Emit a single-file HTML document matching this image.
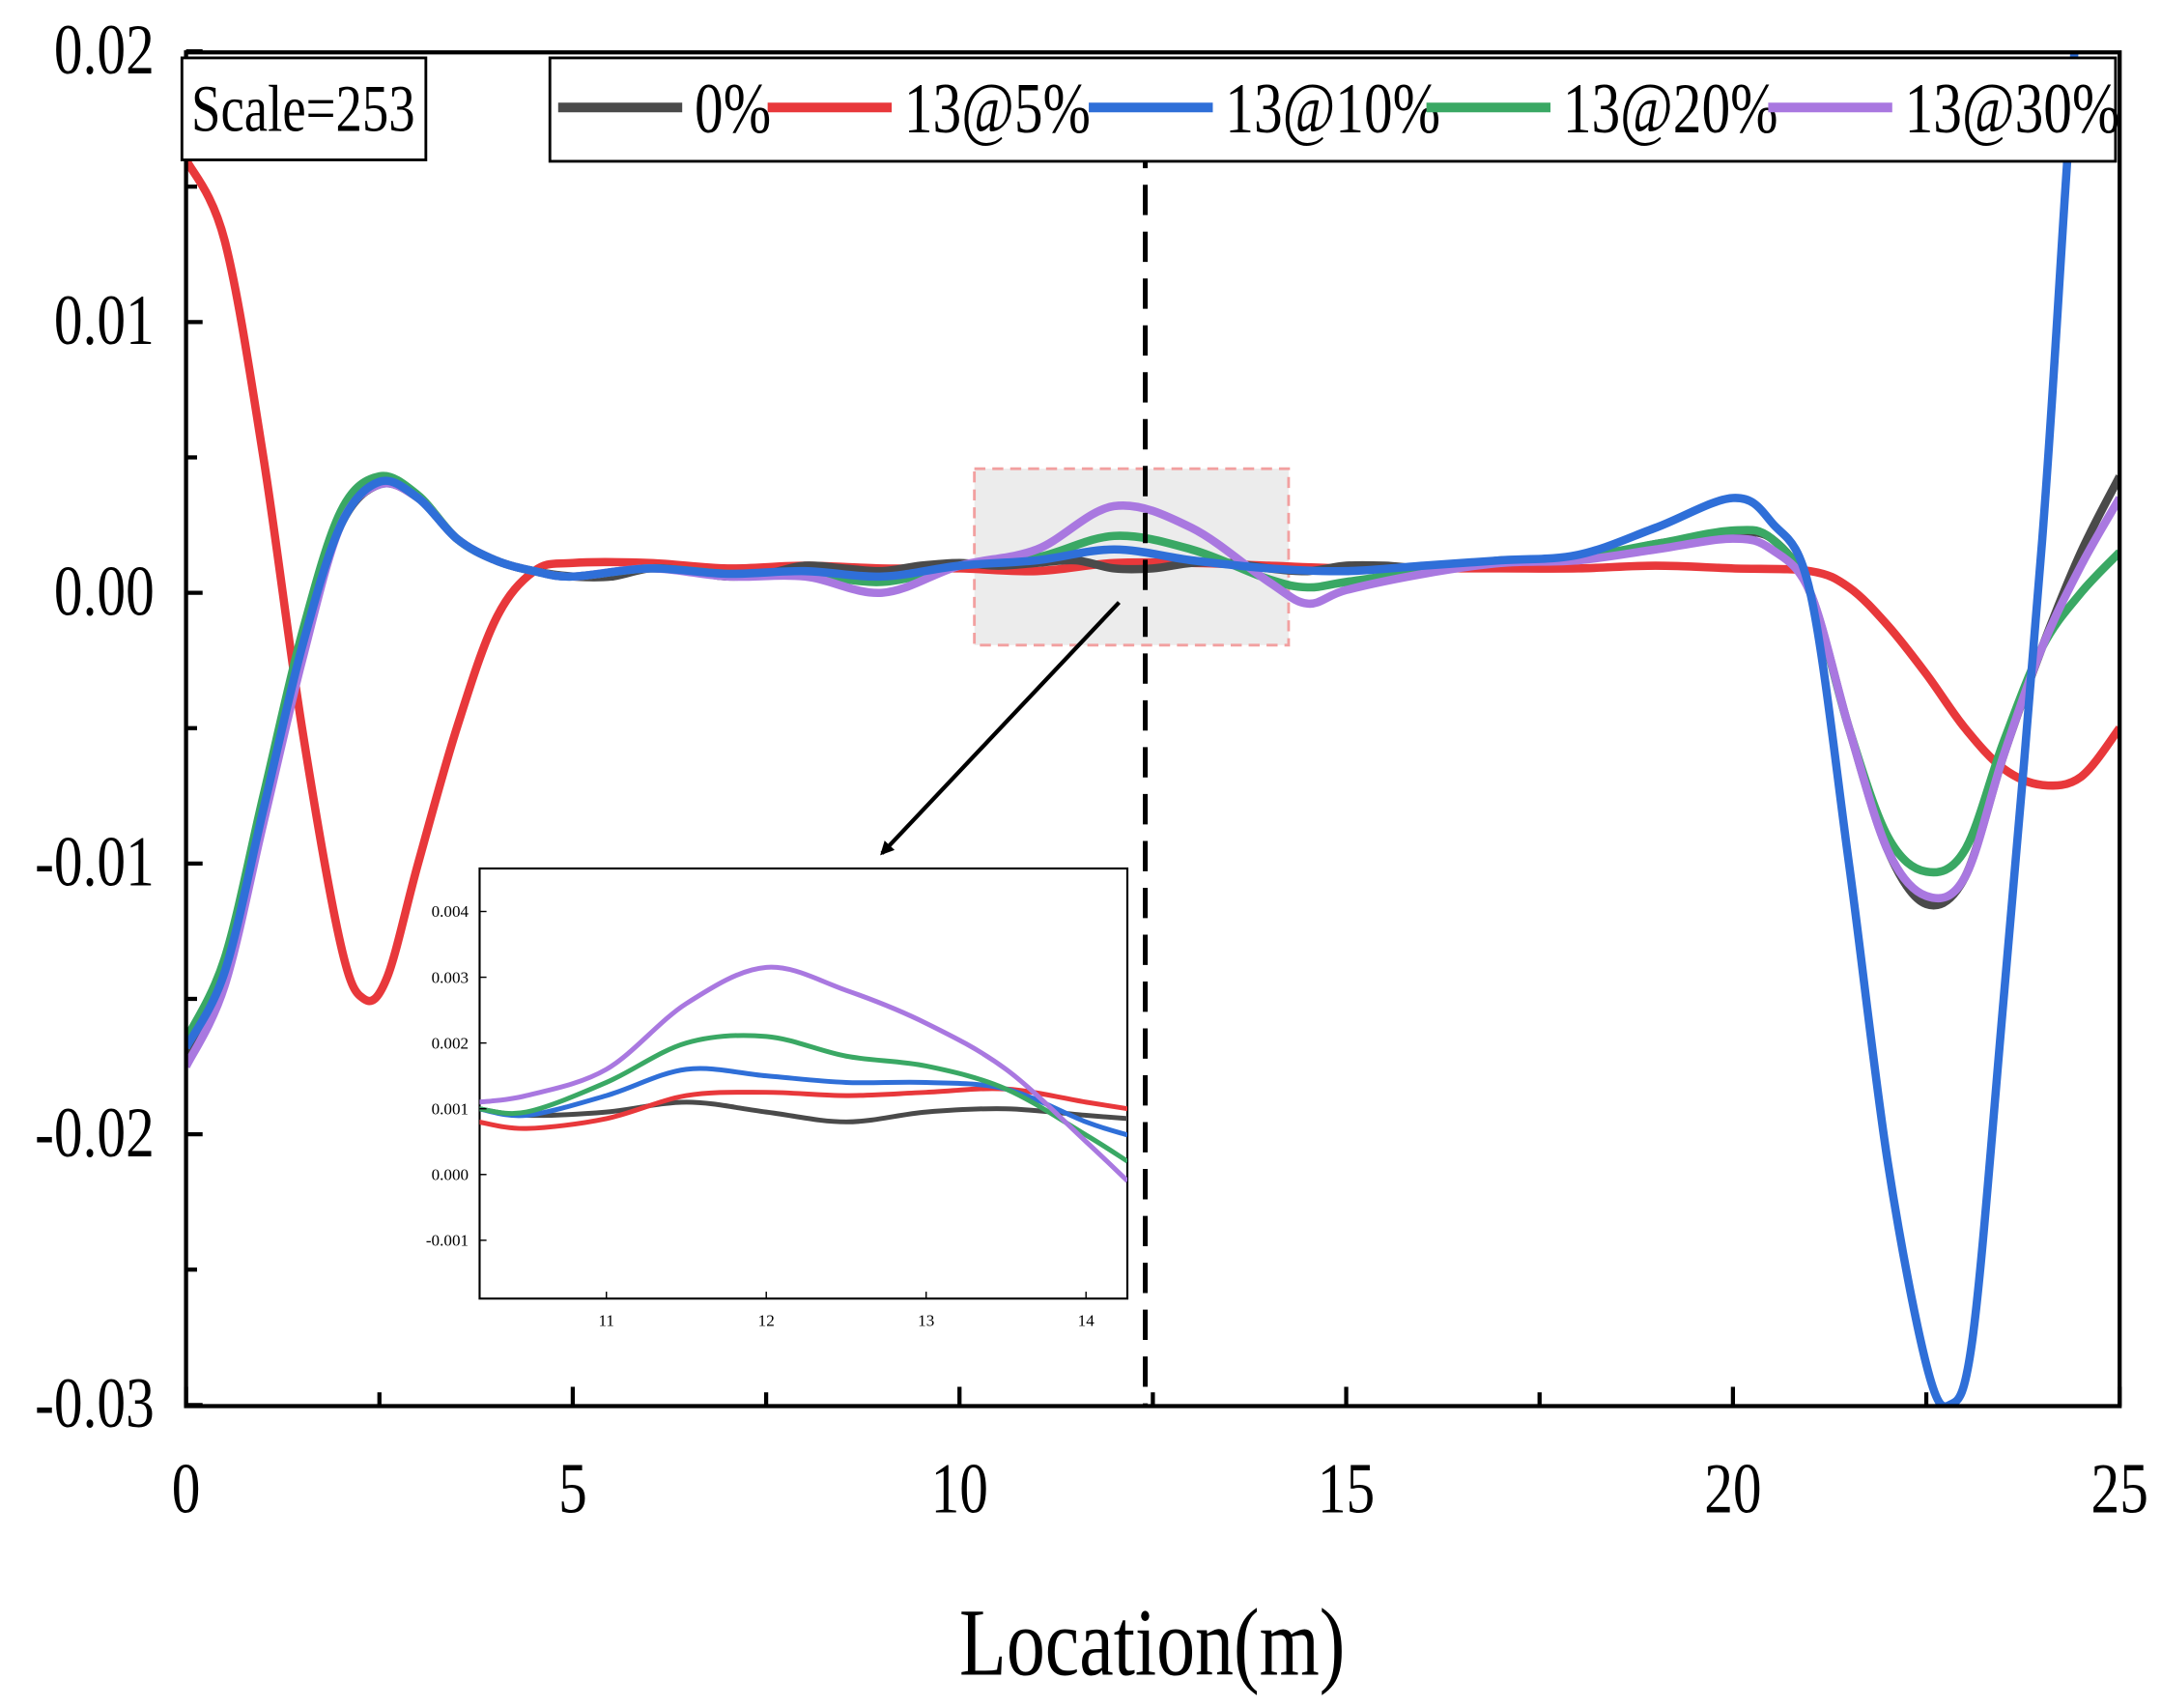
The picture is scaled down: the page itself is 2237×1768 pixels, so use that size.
<!DOCTYPE html>
<html><head><meta charset="utf-8"><style>
html,body{margin:0;padding:0;background:#fff;}
svg{display:block;font-family:"Liberation Serif",serif;}
</style></head><body>
<svg id="chart" width="2237" height="1768" viewBox="0 0 1568 1239" preserveAspectRatio="none" xmlns="http://www.w3.org/2000/svg">
<defs>
<clipPath id="mainClip"><rect x="135" y="38" width="1403" height="982"/></clipPath>
<clipPath id="insetClip"><rect x="348" y="630" width="470" height="312"/></clipPath>
<marker id="ah" markerWidth="10" markerHeight="10" refX="8" refY="5" orient="auto" markerUnits="userSpaceOnUse"><path d="M0,0 L10,5 L0,10 z" fill="#000"/></marker>
</defs>
<g id="main"></g>
<g id="inset"></g>
</svg>
<script>
const seriesNames=["0%","13@5%","13@10%","13@20%","13@30%"];
const seriesColors=["#4a4a4a","#e8383b","#2f6fd8","#3aa864","#a978e0"];
const xTicks=[0,5,10,15,20,25];
const yTicks=[0.02,0.01,0,-0.01,-0.02,-0.03];
const yTickLabels=["0.02","0.01","0.00","-0.01","-0.02","-0.03"];
const xGray=[0,0.5,1,1.5,2,2.5,3,3.5,4,4.5,5,5.5,6,6.5,7,7.5,8,8.5,9,9.5,10,10.5,11,11.5,12,12.5,13,13.5,14,14.5,15,15.5,16,16.5,17,17.5,18,18.5,19,19.5,20,20.5,21,21.5,22,22.5,23,23.5,24,24.5,25];
const yGray=[-17,-14,-8,-2,2.5,4,3.5,2,1.2,0.8,0.6,0.6,0.9,0.8,0.6,0.7,1.0,0.9,0.8,1.0,1.1,1.0,1.1,1.2,0.9,0.9,1.1,1.1,0.9,0.8,1.0,1.0,0.9,1.0,1.2,1.2,1.3,1.5,1.8,2.0,2.2,2.0,0,-5,-9.5,-11.5,-10.5,-6,-2,1.5,4.3];
const xRed=[0,0.5,1,1.5,2,2.3,2.6,3,3.5,4,4.5,5,6,7,8,9,10,11,12,13,14,15,16,17,18,19,20,21,21.5,22,22.5,23,23.5,24,24.5,25];
const yRed=[16,13,5,-5,-13,-15,-14.2,-10,-5,-1,0.8,1.1,1.1,0.9,1.0,0.9,0.9,0.8,1.1,1.1,1.0,0.9,0.9,0.9,0.9,1.0,0.9,0.8,0.2,-1.2,-3,-5,-6.5,-7.1,-6.8,-5];
const xBlue=[0,0.5,1,1.5,2,2.5,3,3.5,4,4.5,5,6,7,8,9,10,11,12,13,14,15,16,17,18,19,20,20.5,21,21.5,22,22.5,22.8,23.1,23.5,24,24.3,24.6];
const yBlue=[-16.8,-14,-8,-2,2.5,4.1,3.5,2,1.2,0.8,0.6,0.9,0.7,0.8,0.6,1.0,1.2,1.6,1.2,0.9,0.8,1.0,1.2,1.4,2.4,3.5,2.6,0,-10,-21,-28.5,-30,-27.5,-15,2,15,28];
const xGreen=[0,0.5,1,1.5,2,2.5,3,3.5,4,4.5,5,6,7,8,9,10,11,12,13,14,14.5,15,16,17,18,19,20,20.5,21,21.5,22,22.5,23,23.5,24,24.5,25];
const yGreen=[-16.5,-13.5,-7.5,-1.5,3,4.3,3.6,2,1.2,0.8,0.6,0.9,0.7,0.7,0.4,1.0,1.3,2.1,1.6,0.5,0.2,0.4,0.8,1.1,1.3,1.8,2.3,2.0,0,-5,-9,-10.3,-9.5,-5.5,-2,0,1.5];
const xPurple=[0,0.5,1,1.5,2,2.5,3,3.5,4,4.5,5,6,7,8,9,10,11,12,13,14,14.5,15,16,17,18,19,20,20.5,21,21.5,22,22.5,23,23.5,24,24.5,25];
const yPurple=[-17.5,-14.5,-8.5,-2.5,2.5,4.0,3.5,2,1.2,0.8,0.6,0.9,0.6,0.6,0.0,1.0,1.6,3.2,2.4,0.4,-0.4,0.1,0.7,1.1,1.2,1.6,2.0,1.6,0,-5,-9.5,-11.2,-10.5,-6,-2,1,3.5];
const insetX=[10.2,10.5,11,11.5,12,12.5,13,13.5,14,14.26];
const insetGray=[1.0,0.9,0.95,1.1,0.95,0.8,0.95,1.0,0.9,0.85];
const insetRed=[0.8,0.7,0.85,1.2,1.25,1.2,1.25,1.3,1.1,1.0];
const insetBlue=[1.0,0.9,1.2,1.6,1.5,1.4,1.4,1.3,0.8,0.6];
const insetGreen=[1.0,0.95,1.4,2.0,2.1,1.8,1.65,1.3,0.6,0.2];
const insetPurple=[1.1,1.2,1.6,2.6,3.15,2.8,2.3,1.6,0.5,-0.1];
const insetXTicks=[11,12,13,14];
const insetYTicks=[0.004,0.003,0.002,0.001,0,-0.001];
const insetYTickLabels=["0.004","0.003","0.002","0.001","0.000","-0.001"];

const NS="http://www.w3.org/2000/svg";
const SX=0.8;
function mk(parent,tag,attrs,text){const e=document.createElementNS(NS,tag);for(const k in attrs)e.setAttribute(k,attrs[k]);if(text!==undefined)e.textContent=text;parent.appendChild(e);return e;}
const X=v=>135+(v-0)/25*1403;
const Y=v=>430-v/0.01*196.4;
const IX=v=>440+(v-11)*116;
const IY=v=>852-v/0.001*47.7;
function spline(pts){let d="M"+pts[0][0]+","+pts[0][1];for(let i=0;i<pts.length-1;i++){const p0=pts[Math.max(i-1,0)],p1=pts[i],p2=pts[i+1],p3=pts[Math.min(i+2,pts.length-1)];const c1x=p1[0]+(p2[0]-p0[0])/6,c1y=p1[1]+(p2[1]-p0[1])/6,c2x=p2[0]-(p3[0]-p1[0])/6,c2y=p2[1]-(p3[1]-p1[1])/6;d+=" C"+c1x+","+c1y+" "+c2x+","+c2y+" "+p2[0]+","+p2[1];}return d;}

const main=document.getElementById("main");
let e=mk(main,"rect",{x:707,y:340,width:228,height:128,fill:"#ececec",stroke:"#f2a0a0","stroke-width":2,"stroke-dasharray":"8,5"});


const mainX=[xGray,xRed,xBlue,xGreen,xPurple];
const mainY=[yGray,yRed,yBlue,yGreen,yPurple];
const sg=mk(main,"g",{"clip-path":"url(#mainClip)"});
const order=[1,0,3,4,2];
order.forEach(i=>{const pts=mainX[i].map((x,j)=>[X(x),Y(mainY[i][j]/1000)]);
 const p=mk(sg,"path",{d:spline(pts),fill:"none",stroke:seriesColors[i],"stroke-width":6,"stroke-linejoin":"round"});
 
 });
e=mk(main,"line",{x1:831,y1:100,x2:831,y2:1020,stroke:"#000","stroke-width":3.5,"stroke-dasharray":"22,12"});


e=mk(main,"line",{x1:812,y1:437,x2:640,y2:619,stroke:"#000","stroke-width":3,"marker-end":"url(#ah)"});


e=mk(main,"rect",{x:135,y:38,width:1403,height:982,fill:"none",stroke:"#000","stroke-width":3});


yTicks.forEach((v,i)=>{const y=Y(v);mk(main,"line",{x1:135,y1:y,x2:147,y2:y,stroke:"#000","stroke-width":3});
 const t=mk(main,"text",{x:112/SX,y:y+16,"text-anchor":"end","font-size":52,transform:"scale("+SX+",1)"},yTickLabels[i]);
 
 
 if(i<yTicks.length-1){const ym=Y(v-0.005);mk(main,"line",{x1:135,y1:ym,x2:143,y2:ym,stroke:"#000","stroke-width":3});}});
xTicks.forEach((v,i)=>{const x=X(v);mk(main,"line",{x1:x,y1:1020,x2:x,y2:1006,stroke:"#000","stroke-width":3});
 const t=mk(main,"text",{x:x/SX,y:1097,"text-anchor":"middle","font-size":52,transform:"scale("+SX+",1)"},String(v));
 
 
 if(i<xTicks.length-1){const xm=X(v+2.5);mk(main,"line",{x1:xm,y1:1020,x2:xm,y2:1010,stroke:"#000","stroke-width":3});}});
e=mk(main,"text",{x:836/SX,y:1215,"text-anchor":"middle","font-size":70,transform:"scale("+SX+",1)"},"Location(m)");


e=mk(main,"rect",{x:132,y:42,width:177,height:74,fill:"#fff",stroke:"#000","stroke-width":2});


e=mk(main,"text",{x:220/SX,y:95,"text-anchor":"middle","font-size":48,transform:"scale("+SX+",1)"},"Scale=253");


e=mk(main,"rect",{x:399,y:42,width:1136,height:75,fill:"#fff",stroke:"#000","stroke-width":2});


const legX=[405,557,790,1035,1283];
seriesNames.forEach((n,i)=>{const g=mk(main,"g",{});
 
 
 mk(g,"line",{x1:legX[i],y1:78,x2:legX[i]+90,y2:78,stroke:seriesColors[i],"stroke-width":7});
 mk(g,"text",{x:(legX[i]+99)/SX,y:96,"font-size":52,transform:"scale("+SX+",1)"},n);});
const ins=document.getElementById("inset");
e=mk(ins,"rect",{x:348,y:630,width:470,height:312,fill:"#fff",stroke:"#000","stroke-width":1.5});


const ig=mk(ins,"g",{"clip-path":"url(#insetClip)"});
const insetY=[insetGray,insetRed,insetBlue,insetGreen,insetPurple];
insetY.forEach((arr,i)=>{const pts=insetX.map((x,j)=>[IX(x),IY(arr[j]/1000)]);
 const p=mk(ig,"path",{d:spline(pts),fill:"none",stroke:seriesColors[i],"stroke-width":3.5});
 
 });
insetYTicks.forEach((v,i)=>{const y=IY(v);mk(ins,"line",{x1:348,y1:y,x2:353,y2:y,stroke:"#000","stroke-width":1});
 const t=mk(ins,"text",{x:340,y:y+4,"text-anchor":"end","font-size":12},insetYTickLabels[i]);
 
 });
insetXTicks.forEach(v=>{const x=IX(v);mk(ins,"line",{x1:x,y1:942,x2:x,y2:937,stroke:"#000","stroke-width":1});
 const t=mk(ins,"text",{x:x,y:962,"text-anchor":"middle","font-size":12},String(v));
 
 });
</script>
</body></html>
